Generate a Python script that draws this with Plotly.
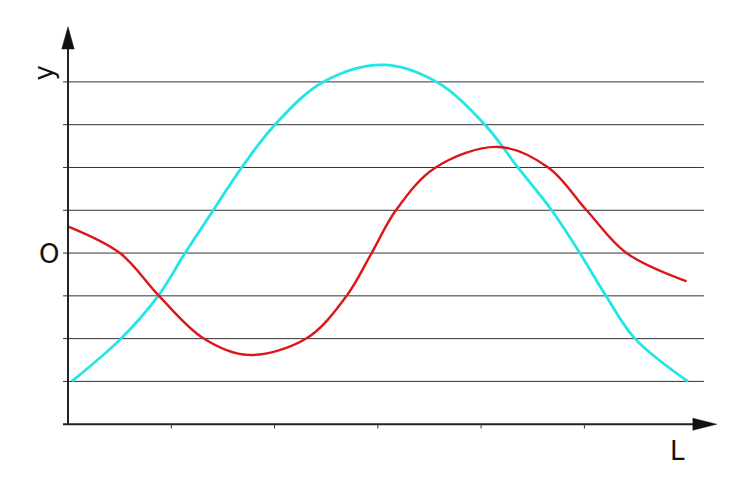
import plotly.graph_objects as go

# Data
cyan_x = [0.036, 0.513, 0.874, 1.133, 1.407, 1.682, 2.004, 2.471, 3.052, 3.569, 4.037, 4.356, 4.683, 4.956, 5.208, 5.489, 6.002]
cyan_y = [-3.0, -2.0, -1.0, 0.0, 1.0, 2.0, 3.0, 4.0, 4.40, 4.0, 3.0, 2.0, 1.0, 0.0, -1.0, -2.0, -3.0]

red_x = [0.003, 0.503, 0.881, 1.310, 1.745, 2.311, 2.698, 2.940, 3.175, 3.553, 4.166, 4.650, 5.021, 5.408, 5.989]
red_y = [0.62, 0.0, -1.0, -1.99, -2.38, -1.99, -1.0, 0.0, 1.0, 1.99, 2.48, 2.0, 1.0, 0.0, -0.66]

grid_levels = [-3, -2, -1, 0, 1, 2, 3, 4]
x_ticks = [1, 2, 3, 4, 5]

fig = go.Figure()
fig.add_trace(go.Scatter(x=cyan_x, y=cyan_y, mode="lines",
                         line=dict(color="#22e5e5", width=2.8, shape="spline", smoothing=1.0),
                         hoverinfo="skip"))
fig.add_trace(go.Scatter(x=red_x, y=red_y, mode="lines",
                         line=dict(color="#dd1515", width=2.4, shape="spline", smoothing=1.0),
                         hoverinfo="skip"))

shapes = []
for g in grid_levels:
    shapes.append(dict(type="line", xref="x", yref="y", x0=-0.048, x1=6.157, y0=g, y1=g,
                       line=dict(color="#333333", width=1), layer="below"))
# axes
shapes.append(dict(type="line", xref="x", yref="y", x0=-0.048, x1=6.06, y0=-4, y1=-4,
                   line=dict(color="#222222", width=2)))
shapes.append(dict(type="line", xref="x", yref="y", x0=0, x1=0, y0=-4, y1=4.8,
                   line=dict(color="#222222", width=2)))
# x ticks
for t in x_ticks:
    shapes.append(dict(type="line", xref="x", yref="y", x0=t, x1=t, y0=-4, y1=-4.1,
                       line=dict(color="#333333", width=1)))
# arrow heads
shapes.append(dict(type="path", xref="x", yref="y",
                   path="M -0.06 4.77 L 0.06 4.77 L 0 5.29 Z",
                   fillcolor="#111111", line=dict(color="#111111", width=0.5)))
shapes.append(dict(type="path", xref="x", yref="y",
                   path="M 6.05 -3.86 L 6.05 -4.14 L 6.28 -4 Z",
                   fillcolor="#111111", line=dict(color="#111111", width=0.5)))

font = dict(family="DejaVu Sans", size=26, color="#111111")
annotations = [
    dict(text="O", x=-0.187, y=-0.03, xref="x", yref="y", showarrow=False, font=font),
    dict(text="L", x=5.90, y=-4.63, xref="x", yref="y", showarrow=False, font=font),
    dict(text="y", x=-0.223, y=4.22, xref="x", yref="y", showarrow=False, font=font, textangle=-90),
]

fig.update_layout(
    width=755, height=488,
    margin=dict(l=29, r=34, t=14, b=29),
    paper_bgcolor="white", plot_bgcolor="white",
    showlegend=False,
    shapes=shapes, annotations=annotations,
    xaxis=dict(range=[-0.3, 6.4], visible=False, fixedrange=True),
    yaxis=dict(range=[-5.0, 5.4], visible=False, fixedrange=True),
)

fig.write_html("out.html")
